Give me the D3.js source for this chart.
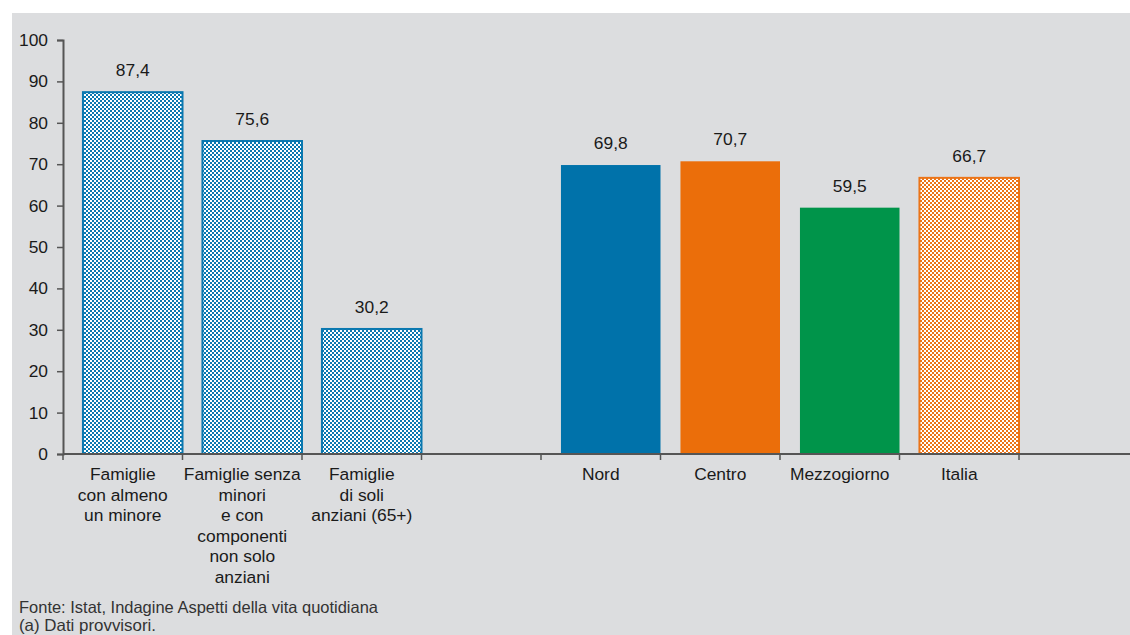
<!DOCTYPE html>
<html><head><meta charset="utf-8">
<script src="https://cdn.jsdelivr.net/npm/d3@7"></script>
<style>body{margin:0;background:#fff}svg{display:block}</style>
</head><body>
<svg id="c" width="1130" height="635"></svg>
<script>
const categories = ["Famiglie\ncon almeno\nun minore", "Famiglie senza\nminori\ne con\ncomponenti\nnon solo\nanziani", "Famiglie\ndi soli\nanziani (65+)", "", "Nord", "Centro", "Mezzogiorno", "Italia"];
const values = [87.4, 75.6, 30.2, null, 69.8, 70.7, 59.5, 66.7];
const valueLabels = ["87,4", "75,6", "30,2", "", "69,8", "70,7", "59,5", "66,7"];
const fills = ["patBlue", "patBlue", "patBlue", null, "#0072aa", "#eb6e0a", "#00944a", "patOrange"];
const strokes = ["#0a78b0", "#0a78b0", "#0a78b0", null, "none", "none", "none", "#eb7418"];
const yTicks = [0, 10, 20, 30, 40, 50, 60, 70, 80, 90, 100];
const notes = ["Fonte: Istat, Indagine Aspetti della vita quotidiana", "(a) Dati provvisori."];
const noteWidths = [359, 137];

const svg = d3.select("#c");
svg.append("rect").attr("x", 12).attr("y", 13).attr("width", 1118).attr("height", 622).attr("fill", "#dcdddf");

const defs = svg.append("defs");
function pat(id, color) {
  const p = defs.append("pattern").attr("id", id).attr("patternUnits", "userSpaceOnUse").attr("width", 4).attr("height", 4);
  p.append("rect").attr("width", 4).attr("height", 4).attr("fill", "#ffffff");
  p.append("rect").attr("width", 2).attr("height", 2).attr("fill", color);
  p.append("rect").attr("x", 2).attr("y", 2).attr("width", 2).attr("height", 2).attr("fill", color);
}
pat("patBlue", "#0a78b0");
pat("patOrange", "#eb7418");

const x = d3.scaleBand().domain(d3.range(categories.length)).range([63, 1019]).paddingInner(0).paddingOuter(0);
const y = d3.scaleLinear().domain([0, 100]).range([454, 40]);
const bw = x.bandwidth();
const off = bw * 0.167, barW = bw * 0.833;

const font = "Liberation Sans, Arial, Helvetica, sans-serif";
const fs = 17.4;

// bars
const idx = d3.range(values.length).filter(i => values[i] != null);
svg.append("g").selectAll("rect").data(idx).join("rect")
  .attr("x", i => x(i) + off)
  .attr("y", i => y(values[i]))
  .attr("width", barW)
  .attr("height", i => y(0) - y(values[i]))
  .attr("fill", i => fills[i].startsWith("#") ? fills[i] : `url(#${fills[i]})`)
  .attr("stroke", i => strokes[i])
  .attr("stroke-width", 2);

// value labels
svg.append("g").selectAll("text").data(idx).join("text")
  .attr("x", i => x(i) + off + barW / 2)
  .attr("y", i => y(values[i]) - 16)
  .attr("text-anchor", "middle")
  .attr("font-family", font).attr("font-size", fs).attr("fill", "#1a1a1a")
  .text(i => valueLabels[i]);

// y axis
const ya = svg.append("g").attr("transform", "translate(63,0)")
  .call(d3.axisLeft(y).tickValues(yTicks).tickSize(6).tickPadding(9).tickFormat(d3.format("d")));
ya.select(".domain").attr("stroke", "#555").attr("stroke-width", 2);
ya.selectAll(".tick line").attr("stroke", "#555").attr("stroke-width", 1.5);
ya.selectAll(".tick text").attr("font-family", font).attr("font-size", fs).attr("fill", "#1a1a1a");

// x axis
const xa = svg.append("g").attr("transform", `translate(0,${y(0)})`);
xa.append("line").attr("x1", 63).attr("x2", 1130).attr("stroke", "#555").attr("stroke-width", 2);
const bounds = d3.range(categories.length + 1).map(i => i < categories.length ? x(i) : x(i - 1) + bw);
xa.selectAll("line.t").data(bounds).join("line").attr("class", "t")
  .attr("x1", d => d).attr("x2", d => d).attr("y1", 0).attr("y2", 6)
  .attr("stroke", "#555").attr("stroke-width", 1.5);
const lab = xa.selectAll("text.c").data(d3.range(categories.length)).join("text").attr("class", "c")
  .attr("text-anchor", "middle")
  .attr("font-family", font).attr("font-size", fs).attr("fill", "#1a1a1a");
lab.each(function (i) {
  const t = d3.select(this);
  categories[i].split("\n").forEach((s, k) => {
    t.append("tspan").attr("x", x(i) + bw / 2).attr("y", 26 + k * 20.5).text(s);
  });
});

// notes
svg.selectAll("text.n").data(notes).join("text").attr("class", "n")
  .attr("x", 19).attr("y", (d, i) => 613 + i * 18)
  .attr("font-family", font)
  .attr("font-size", 16.5).attr("fill", "#333")
  .attr("textLength", (d, i) => noteWidths[i]).attr("lengthAdjust", "spacingAndGlyphs")
  .text(d => d);
</script>
</body></html>
